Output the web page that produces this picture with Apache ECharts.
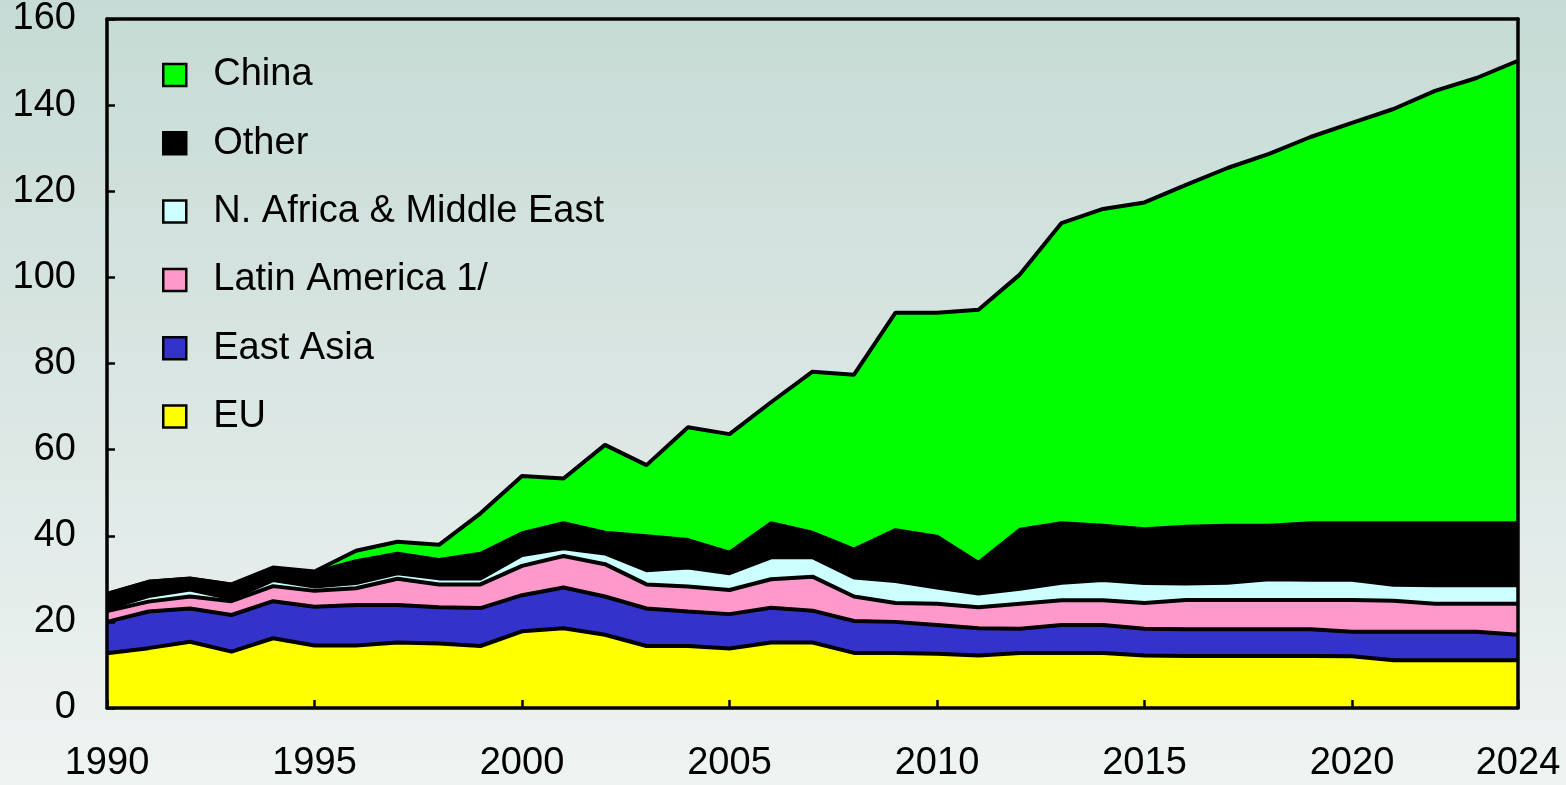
<!DOCTYPE html>
<html lang="en">
<head>
  <meta charset="UTF-8">
  <title>Imports by region</title>
  <script src="https://cdn.jsdelivr.net/npm/echarts@6/dist/echarts.min.js"></script>
  <style>
    html, body { margin: 0; padding: 0; }
    #chart { width: 1566px; height: 785px; }
  </style>
</head>
<body>
  <div id="chart"></div>
  <script>
    const years = [];
    for (let y = 1990; y <= 2024; y++) years.push(String(y));

    const eu = [12.7, 13.9, 15.4, 13.1, 16.2, 14.5, 14.5, 15.2, 15.0, 14.4, 17.8, 18.5, 17.0, 14.4, 14.4, 13.8, 15.2, 15.2, 12.8, 12.8, 12.6, 12.2, 12.8, 12.8, 12.8, 12.2, 12.1, 12.1, 12.1, 12.1, 12.0, 11.1, 11.1, 11.1, 11.1];
    const eastAsia = [7.3, 8.5, 7.7, 8.5, 8.6, 9.0, 9.4, 8.7, 8.4, 8.8, 8.4, 9.5, 8.9, 8.7, 8.0, 8.0, 8.1, 7.4, 7.4, 7.2, 6.7, 6.3, 5.6, 6.5, 6.5, 6.2, 6.2, 6.2, 6.2, 6.2, 5.7, 6.6, 6.6, 6.6, 5.9];
    const latinAmerica = [2.5, 2.3, 2.8, 3.2, 3.5, 3.7, 3.9, 6.1, 5.3, 5.5, 6.8, 7.3, 7.5, 5.6, 5.8, 5.6, 6.6, 7.9, 5.7, 4.4, 4.9, 4.9, 5.8, 5.7, 5.7, 6.0, 6.8, 6.8, 6.8, 6.8, 7.4, 7.2, 6.5, 6.5, 7.2];
    const naMiddleEast = [0.6, 1.3, 1.6, 0.6, 1.4, 1.0, 1.2, 1.3, 1.4, 1.4, 2.5, 1.8, 2.5, 3.3, 4.4, 3.9, 5.1, 4.5, 4.4, 5.1, 3.8, 3.2, 3.5, 4.1, 4.7, 4.6, 3.8, 4.0, 4.8, 4.7, 4.7, 3.7, 4.3, 4.3, 4.3];
    const other = [3.4, 3.3, 2.5, 3.2, 2.7, 3.3, 5.1, 4.5, 4.3, 5.7, 5.1, 5.8, 4.8, 7.9, 6.4, 4.8, 7.9, 5.7, 6.5, 11.8, 11.8, 7.1, 13.7, 13.8, 12.6, 12.5, 13.2, 13.2, 12.4, 13.1, 13.1, 14.3, 14.4, 14.4, 14.4];
    const china = [0, 0, 0.1, 0.1, 0.2, 0.2, 2.4, 2.8, 3.5, 9.4, 13.3, 10.4, 20.4, 16.5, 26.2, 27.5, 28.1, 37.4, 40.6, 50.5, 52.0, 58.8, 59.3, 69.7, 73.6, 75.9, 79.4, 83.1, 86.4, 89.7, 93.0, 96.2, 100.4, 103.4, 107.4];

    const font = '"Liberation Sans", Arial, sans-serif';

    // stacked from bottom to top
    const layers = [
      { name: 'EU', data: eu, color: '#ffff00' },
      { name: 'East Asia', data: eastAsia, color: '#3333cc' },
      { name: 'Latin America 1/', data: latinAmerica, color: '#ff99cc' },
      { name: 'N. Africa & Middle East', data: naMiddleEast, color: '#ccffff' },
      { name: 'Other', data: other, color: '#000000' },
      { name: 'China', data: china, color: '#00ff00' }
    ];

    const series = [];
    layers.forEach(l => {
      series.push({
        name: l.name,
        type: 'line',
        stack: 'area',
        data: l.data,
        symbol: 'none',
        color: l.color,
        lineStyle: { width: 0 },
        areaStyle: { color: l.color, opacity: 1 },
        z: 2
      });
    });
    // black outlines on top of all fills
    layers.forEach(l => {
      series.push({
        name: l.name + ' edge',
        type: 'line',
        stack: 'edge',
        data: l.data,
        symbol: 'none',
        lineStyle: { color: '#000', width: 4 },
        z: 3,
        silent: true
      });
    });

    const showYear = (i, v) => Number(v) % 5 === 0 || v === '2024';

    const option = {
      animation: false,
      backgroundColor: {
        type: 'linear', x: 0, y: 0, x2: 0, y2: 1,
        colorStops: [
          { offset: 0, color: '#c6dbd5' },
          { offset: 0.5, color: '#dae6e3' },
          { offset: 1, color: '#eff4f3' }
        ]
      },
      textStyle: { fontFamily: font },
      grid: { left: 107, right: 48, top: 19, bottom: 77 },
      legend: {
        orient: 'vertical',
        left: 162,
        top: 56,
        padding: 0,
        itemGap: 30.3,
        itemWidth: 23,
        itemHeight: 22,
        icon: 'rect',
        itemStyle: { borderColor: '#000', borderWidth: 2.5 },
        data: ['China', 'Other', 'N. Africa & Middle East', 'Latin America 1/', 'East Asia', 'EU'],
        textStyle: { fontFamily: font, fontSize: 38, lineHeight: 37, color: '#000', padding: [0, 0, 0, 22] }
      },
      xAxis: [
        {
          type: 'category',
          data: years,
          boundaryGap: false,
          z: 10,
          axisLine: { lineStyle: { color: '#000', width: 3.5 } },
          axisTick: { inside: true, length: 8, interval: showYear, lineStyle: { color: '#000', width: 2.5 } },
          axisLabel: { interval: showYear, fontSize: 38, color: '#000', margin: 37, fontFamily: font },
          splitLine: { show: false }
        },
        {
          type: 'category',
          data: years,
          boundaryGap: false,
          position: 'top',
          z: 10,
          axisLine: { onZero: false, lineStyle: { color: '#000', width: 3.5 } },
          axisTick: { show: false },
          axisLabel: { show: false }
        }
      ],
      yAxis: [
        {
          type: 'value',
          min: 0,
          max: 160,
          interval: 20,
          z: 10,
          axisLine: { show: true, onZero: false, lineStyle: { color: '#000', width: 3.5 } },
          axisTick: { show: true, inside: true, length: 8, lineStyle: { color: '#000', width: 2.5 } },
          axisLabel: { fontSize: 38, color: '#000', margin: 31, fontFamily: font },
          splitLine: { show: false }
        },
        {
          type: 'value',
          min: 0,
          max: 160,
          position: 'right',
          z: 10,
          axisLine: { show: true, onZero: false, lineStyle: { color: '#000', width: 3.5 } },
          axisTick: { show: false },
          axisLabel: { show: false },
          splitLine: { show: false }
        }
      ],
      series
    };

    echarts.init(document.getElementById('chart')).setOption(option);
  </script>
</body>
</html>
